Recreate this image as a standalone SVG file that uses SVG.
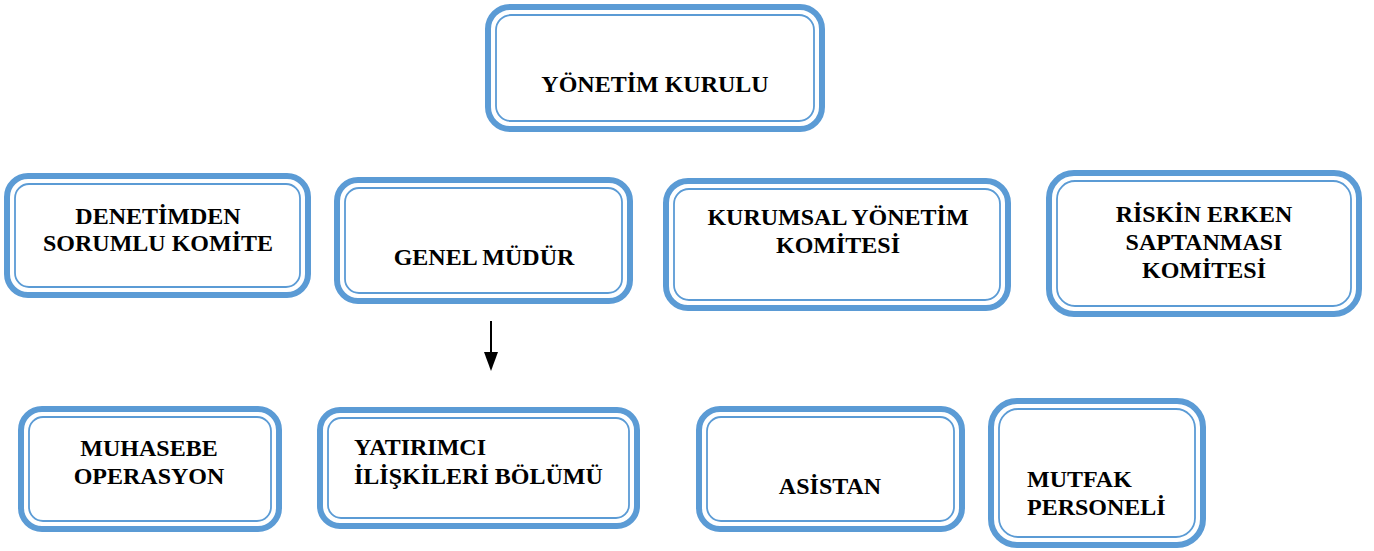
<svg xmlns="http://www.w3.org/2000/svg" width="1374" height="551" viewBox="0 0 1374 551">
<style>
.o{fill:#fff;stroke:#5B9BD5;stroke-width:6}
.i{fill:none;stroke:#5B9BD5;stroke-width:1.8}
.t{font-family:"Liberation Serif","Times New Roman",serif;font-weight:bold;font-size:24px;fill:#000}
.c{text-anchor:middle}
</style>
<g id="yonetim-kurulu">
<rect class="o" x="488" y="7" width="334" height="122" rx="22"/>
<rect class="i" x="496" y="15" width="318" height="106" rx="15"/>
<text class="t c" x="655" y="92">YÖNETİM KURULU</text>
</g>
<g id="denetimden">
<rect class="o" x="7" y="176" width="301" height="119" rx="21"/>
<rect class="i" x="15" y="184" width="285" height="103" rx="14"/>
<text class="t c" x="158" y="224">DENETİMDEN</text>
<text class="t c" x="158" y="251">SORUMLU KOMİTE</text>
</g>
<g id="genel-mudur">
<rect class="o" x="337" y="180" width="293" height="121" rx="21"/>
<rect class="i" x="345" y="188" width="277" height="105" rx="14"/>
<text class="t c" x="484" y="265">GENEL MÜDÜR</text>
</g>
<g id="kurumsal">
<rect class="o" x="666" y="181" width="342" height="127" rx="22"/>
<rect class="i" x="674" y="189" width="326" height="111" rx="15"/>
<text class="t c" x="838" y="225">KURUMSAL YÖNETİM</text>
<text class="t c" x="838" y="253">KOMİTESİ</text>
</g>
<g id="riskin">
<rect class="o" x="1049" y="173" width="310" height="141" rx="25"/>
<rect class="i" x="1057" y="181" width="294" height="125" rx="18"/>
<text class="t c" x="1204" y="222">RİSKİN ERKEN</text>
<text class="t c" x="1204" y="250">SAPTANMASI</text>
<text class="t c" x="1204" y="278">KOMİTESİ</text>
</g>
<g id="muhasebe">
<rect class="o" x="21" y="409" width="258" height="120" rx="21"/>
<rect class="i" x="29" y="417" width="242" height="104" rx="14"/>
<text class="t c" x="149" y="456">MUHASEBE</text>
<text class="t c" x="149" y="484">OPERASYON</text>
</g>
<g id="yatirimci">
<rect class="o" x="320" y="410" width="317" height="116" rx="20"/>
<rect class="i" x="328" y="418" width="301" height="100" rx="13"/>
<text class="t" x="354" y="455">YATIRIMCI</text>
<text class="t" x="354" y="484">İLİŞKİLERİ BÖLÜMÜ</text>
</g>
<g id="asistan">
<rect class="o" x="699" y="409" width="263" height="120" rx="21"/>
<rect class="i" x="707" y="417" width="247" height="104" rx="14"/>
<text class="t c" x="830" y="494">ASİSTAN</text>
</g>
<g id="mutfak">
<rect class="o" x="991" y="401" width="212" height="144" rx="26"/>
<rect class="i" x="999" y="409" width="196" height="128" rx="19"/>
<text class="t" x="1027" y="487">MUTFAK</text>
<text class="t" x="1027" y="515">PERSONELİ</text>
</g>
<g id="connectors">
<line x1="491" y1="321" x2="491" y2="354" stroke="#000" stroke-width="2"/>
<polygon points="484,352 498,352 491,371" fill="#000"/>
</g>
</svg>
